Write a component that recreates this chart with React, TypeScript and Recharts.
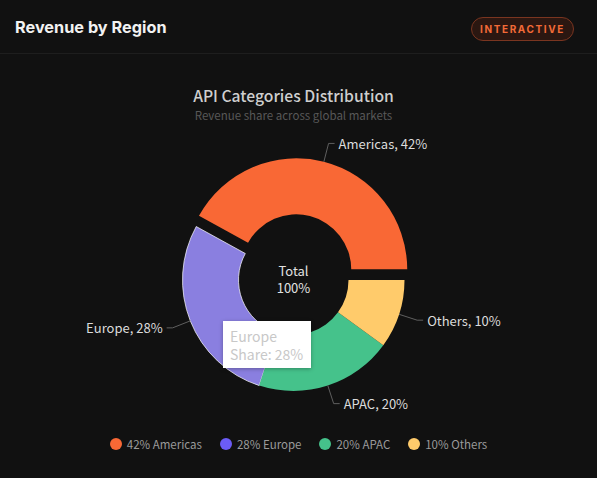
import React from 'react';
import { PieChart, Pie, Cell, Tooltip, Legend, Sector } from 'recharts';

const regions = ['Americas', 'Europe', 'APAC', 'Others'];
const shares = [42, 28, 20, 10];
const colors = ['#F96835', '#6B5CF6', '#45C28B', '#FFCB6B'];

const chartData = regions.map((name, i) => ({ name, value: shares[i] }));

const FONT = '"Noto Sans CJK SC", "Noto Sans", sans-serif';
const RAD = Math.PI / 180;
const CX = 293.5;
const CY = 280;
const PULL = 11; // Americas slice is pulled out
const pullAngle = (shares[0] / 100) * 180; // mid angle of first slice

const makeLabel = (show: (i: number) => boolean) => (props: any) => {
  const { cx, cy, midAngle, outerRadius, index, name, value } = props;
  if (!show(index)) return null;
  const cos = Math.cos(-midAngle * RAD);
  const sin = Math.sin(-midAngle * RAD);
  const sx = cx + outerRadius * cos;
  const sy = cy + outerRadius * sin;
  const mx = cx + (outerRadius + 19) * cos;
  const my = cy + (outerRadius + 19) * sin;
  const dir = cos >= 0 ? 1 : -1;
  const ex = mx + dir * 6;
  return (
    <g>
      <polyline points={`${sx},${sy} ${mx},${my} ${ex},${my}`} stroke="#5f5f5f" fill="none" />
      <text
        x={ex + dir * 4}
        y={my}
        textAnchor={dir > 0 ? 'start' : 'end'}
        dominantBaseline="central"
        fill="#dcdcdc"
        fontSize={13}
        fontFamily={FONT}
      >
        {name}, {value}%
      </text>
    </g>
  );
};

const activeSlice = (props: any) => (
  <Sector {...props} fill="#8a7fe0" stroke="rgba(255,255,255,0.7)" strokeWidth={1} />
);

const TipBox = ({ active, payload }: any) => {
  if (!active || !payload || !payload.length) return null;
  const p = payload[0];
  return (
    <div
      style={{
        background: '#fff',
        padding: '6px 8px 5px 7px',
        fontFamily: FONT,
        fontSize: 14,
        lineHeight: '18px',
        color: '#c8c8c8',
        boxShadow: '0 1px 4px rgba(0,0,0,0.3)',
      }}
    >
      <div>{p.name}</div>
      <div>Share: {p.value}%</div>
    </div>
  );
};

const LegendRow = () => (
  <div
    style={{
      display: 'flex',
      justifyContent: 'center',
      gap: 18,
      fontFamily: FONT,
      fontSize: 11.5,
      color: '#9a9a9a',
    }}
  >
    {regions.map((r, i) => (
      <div key={r} style={{ display: 'flex', alignItems: 'center' }}>
        <span
          style={{
            width: 12,
            height: 12,
            borderRadius: 6,
            background: colors[i],
            marginRight: 5,
            display: 'inline-block',
          }}
        />
        <span>
          {shares[i]}% {r}
        </span>
      </div>
    ))}
  </div>
);

export default function App() {
  return (
    <div
      style={{
        position: 'fixed',
        left: 0,
        top: 0,
        width: 597,
        height: 478,
        background: '#111111',
        overflow: 'hidden',
      }}
    >
      <div
        style={{
          position: 'absolute',
          left: 0,
          top: 0,
          width: 597,
          height: 53,
          borderBottom: '1px solid #1e1e1e',
        }}
      >
        <div
          style={{
            position: 'absolute',
            left: 15,
            top: 17,
            fontFamily: 'Inter, sans-serif',
            fontWeight: 700,
            fontSize: 16.3,
            color: '#f2f2f2',
          }}
        >
          Revenue by Region
        </div>
        <div
          style={{
            position: 'absolute',
            left: 471,
            top: 17,
            width: 101,
            height: 22,
            borderRadius: 12,
            border: '1px solid #7a3520',
            background: '#2b1711',
            color: '#f26a37',
            fontFamily: 'Inter, sans-serif',
            fontWeight: 700,
            fontSize: 10,
            letterSpacing: 1.6,
            display: 'flex',
            alignItems: 'center',
            justifyContent: 'center',
          }}
        >
          INTERACTIVE
        </div>
      </div>
      <div
        style={{
          position: 'absolute',
          left: 0,
          top: 85,
          width: 587,
          textAlign: 'center',
          fontFamily: FONT,
          color: '#cfcfcf',
          fontSize: 15.7,
          fontWeight: 500,
          lineHeight: '21px',
        }}
      >
        API Categories Distribution
        <div style={{ fontSize: 11.5, color: '#585858', fontWeight: 400, lineHeight: '18px' }}>
          Revenue share across global markets
        </div>
      </div>
      <div style={{ position: 'absolute', left: 0, top: 0 }}>
        <PieChart width={597} height={478} margin={{ top: 0, right: 0, bottom: 0, left: 0 }}>
          <Pie
            data={chartData}
            dataKey="value"
            nameKey="name"
            cx={CX}
            cy={CY}
            innerRadius={55}
            outerRadius={111}
            startAngle={0}
            endAngle={360}
            stroke="none"
            labelLine={false}
            label={makeLabel((i) => i !== 0)}
            activeShape={activeSlice}
            isAnimationActive={false}
          >
            {chartData.map((d, i) => (
              <Cell key={d.name} fill={i === 0 ? 'transparent' : colors[i]} />
            ))}
          </Pie>
          <Pie
            data={chartData}
            dataKey="value"
            nameKey="name"
            cx={CX + PULL * Math.cos(pullAngle * RAD)}
            cy={CY - PULL * Math.sin(pullAngle * RAD)}
            innerRadius={55}
            outerRadius={111}
            startAngle={0}
            endAngle={360}
            stroke="none"
            labelLine={false}
            label={makeLabel((i) => i === 0)}
            tooltipType="none"
            isAnimationActive={false}
          >
            {chartData.map((d, i) => (
              <Cell key={d.name} fill={i === 0 ? colors[0] : 'transparent'} />
            ))}
          </Pie>
          <Tooltip
            defaultIndex={1}
            position={{ x: 223, y: 321 }}
            content={TipBox}
            isAnimationActive={false}
          />
          <Legend
            content={LegendRow}
            wrapperStyle={{ top: 436, left: 0, width: 597, bottom: 'auto' }}
          />
        </PieChart>
      </div>
      <div
        style={{
          position: 'absolute',
          left: CX - 40,
          top: CY - 18,
          width: 80,
          textAlign: 'center',
          fontFamily: FONT,
          fontSize: 13,
          lineHeight: '17px',
          color: '#e2e2e2',
          pointerEvents: 'none',
        }}
      >
        Total
        <br />
        100%
      </div>
    </div>
  );
}
